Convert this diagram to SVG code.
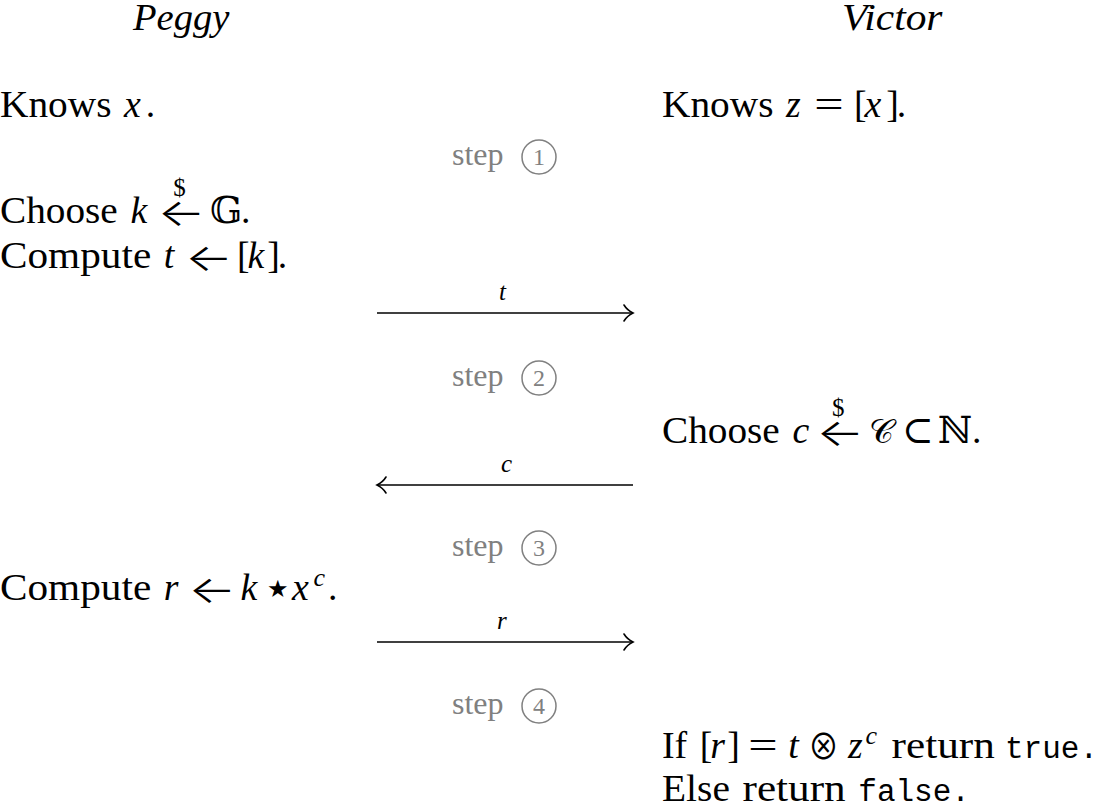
<svg xmlns="http://www.w3.org/2000/svg" width="1108" height="804" viewBox="0 0 1108 804">
<style>
text{font-family:"Liberation Serif","DejaVu Serif",serif;font-size:37.8px;fill:#000}
.it{font-style:italic}
.tt{font-family:"Liberation Mono","DejaVu Sans Mono",monospace;font-size:31px}
.sym{font-family:"DejaVu Serif","DejaVu Sans",serif}
.arr{font-family:Inter,"DejaVu Sans",sans-serif;font-weight:300;font-size:38px}
.cjk{font-family:"Noto Sans CJK JP","DejaVu Sans",sans-serif}
.dol{font-size:25px}
.sup{font-size:26px;font-style:italic}
.lbl{font-size:25px;font-style:italic}
.step text{fill:#808080;font-size:32px}
.step circle{fill:none;stroke:#808080;stroke-width:1.5}
.step .n{font-size:24px;text-anchor:middle}
.conn line{stroke:#000;stroke-width:1.6;marker-end:url(#head)}
</style>
<defs>
<marker id="head" markerUnits="userSpaceOnUse" markerWidth="16" markerHeight="20" viewBox="-12 -10 16 20" refX="0" refY="0" orient="auto">
<path d="M-9,-8 C-6,-3 -2,-1 0,0 C-2,1 -6,3 -9,8" fill="none" stroke="#000" stroke-width="1.6" stroke-linecap="round"/>
</marker>
</defs>
<rect width="1108" height="804" fill="#fff"/>

<g id="peggy-title"><text class="it" x="133" y="30" textLength="96.5" lengthAdjust="spacingAndGlyphs">Peggy</text></g>
<g id="victor-title"><text class="it" x="842" y="30" textLength="100.5" lengthAdjust="spacingAndGlyphs">Victor</text></g>

<g id="peggy-knows">
<text x="0" y="117" textLength="111.5" lengthAdjust="spacingAndGlyphs">Knows</text>
<text class="it" x="124.1" y="117">x</text>
<text x="145.7" y="117">.</text>
</g>

<g id="victor-knows">
<text x="662" y="117" textLength="111.5" lengthAdjust="spacingAndGlyphs">Knows</text>
<text class="it" x="786.1" y="117">z</text>
<text x="814.2" y="117" textLength="29.4" lengthAdjust="spacingAndGlyphs">=</text>
<text x="854.1" y="117">[</text>
<text class="it" x="864.6" y="117">x</text>
<text x="886.2" y="117">]</text>
<text x="896.7" y="117">.</text>
</g>

<g id="peggy-choose">
<text x="0" y="223" textLength="117.8" lengthAdjust="spacingAndGlyphs">Choose</text>
<text class="it" x="130.4" y="223">k</text>
<text class="arr" x="157.6" y="226" textLength="48" lengthAdjust="spacingAndGlyphs">←</text>
<text class="dol" x="179.5" y="196" text-anchor="middle">$</text>
<text class="sym" x="210" y="223">𝔾</text>
<text x="241" y="223">.</text>
</g>

<g id="peggy-compute-t">
<text x="0" y="268" textLength="151.2" lengthAdjust="spacingAndGlyphs">Compute</text>
<text class="it" x="163.8" y="268">t</text>
<text class="arr" x="184.9" y="271" textLength="48" lengthAdjust="spacingAndGlyphs">←</text>
<text x="237" y="268">[</text>
<text class="it" x="247.5" y="268">k</text>
<text x="267.2" y="268">]</text>
<text x="277.7" y="268">.</text>
</g>

<g id="victor-choose">
<text x="662" y="443" textLength="117.8" lengthAdjust="spacingAndGlyphs">Choose</text>
<text class="it" x="792.4" y="443">c</text>
<text class="arr" x="816.3" y="446" textLength="48" lengthAdjust="spacingAndGlyphs">←</text>
<text class="dol" x="838.2" y="416" text-anchor="middle">$</text>
<text class="sym" x="869" y="443" style="font-size:34px">𝒞</text>
<text class="sym" x="902" y="443">⊂</text>
<text class="sym" x="938" y="443">ℕ</text>
<text x="972" y="443">.</text>
</g>

<g id="peggy-compute-r">
<text x="0" y="600" textLength="151.2" lengthAdjust="spacingAndGlyphs">Compute</text>
<text class="it" x="163.8" y="600">r</text>
<text class="arr" x="188.3" y="603" textLength="48" lengthAdjust="spacingAndGlyphs">←</text>
<text class="it" x="240.5" y="600">k</text>
<text class="sym" x="267" y="597" style="font-size:24px">★</text>
<text class="it" x="292" y="600">x</text>
<text class="sup" x="313.6" y="586">c</text>
<text x="328" y="600">.</text>
</g>

<g id="victor-verify">
<text x="662" y="758" textLength="25.2" lengthAdjust="spacingAndGlyphs">If</text>
<text x="699.8" y="758">[</text>
<text class="it" x="710.3" y="758">r</text>
<text x="727.3" y="758">]</text>
<text x="748.3" y="758" textLength="29.4" lengthAdjust="spacingAndGlyphs">=</text>
<text class="it" x="788.2" y="758">t</text>
<text class="cjk" x="808" y="760" style="font-size:36px" textLength="31" lengthAdjust="spacingAndGlyphs">⊗</text>
<text class="it" x="848" y="758">z</text>
<text class="sup" x="865.6" y="744">c</text>
<text x="891.6" y="758" textLength="103.2" lengthAdjust="spacingAndGlyphs">return</text>
<text class="tt" x="1005" y="758">true.</text>
</g>

<g id="victor-else">
<text x="662" y="801" textLength="67.9" lengthAdjust="spacingAndGlyphs">Else</text>
<text x="742.5" y="801" textLength="103.2" lengthAdjust="spacingAndGlyphs">return</text>
<text class="tt" x="858.3" y="801">false.</text>
</g>

<g id="step1" class="step"><text x="452" y="165">step</text><circle cx="539" cy="157" r="17"/><text class="n" x="539" y="165">1</text></g>
<g id="step2" class="step"><text x="452" y="386">step</text><circle cx="539" cy="378" r="17"/><text class="n" x="539" y="386">2</text></g>
<g id="step3" class="step"><text x="452" y="556">step</text><circle cx="539" cy="548" r="17"/><text class="n" x="539" y="556">3</text></g>
<g id="step4" class="step"><text x="452" y="714">step</text><circle cx="539" cy="706" r="17"/><text class="n" x="539" y="714">4</text></g>

<g id="connectors" class="conn">
<line x1="377" y1="313" x2="633" y2="313"/>
<line x1="633" y1="485" x2="377" y2="485"/>
<line x1="377" y1="642" x2="633" y2="642"/>
<text class="lbl" x="499" y="300">t</text>
<text class="lbl" x="501" y="472">c</text>
<text class="lbl" x="497" y="629">r</text>
</g>
</svg>
